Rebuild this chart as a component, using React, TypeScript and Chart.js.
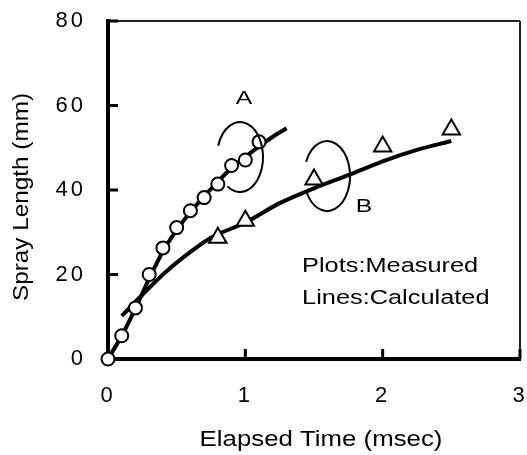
import React, { useEffect, useRef } from "react";
import { Chart, registerables } from "chart.js";

Chart.register(...registerables);

// ---- data ----
const measuredAX = [0, 0.1, 0.2, 0.3, 0.4, 0.5, 0.6, 0.7, 0.8, 0.9, 1.0, 1.1];
const measuredAY = [0, 5.5, 12.1, 20.0, 26.3, 31.1, 35.1, 38.2, 41.4, 45.8, 47.1, 51.4];
const measuredBX = [0.8, 1.0, 1.5, 2.0, 2.5];
const measuredBY = [28.7, 32.7, 42.5, 50.3, 54.3];
const calcAX = [0, 0.1, 0.2, 0.3, 0.4, 0.5, 0.6, 0.7, 0.8, 0.9, 1.0, 1.1, 1.2, 1.3];
const calcAY = [0, 5.5, 12, 19, 25.5, 30.5, 34.8, 38.5, 42, 45.2, 47.8, 50.3, 52.6, 54.6];
const calcBX = [0.1, 0.25, 0.4, 0.55, 0.75, 1.0, 1.25, 1.5, 1.75, 2.0, 2.25, 2.5];
const calcBY = [10.2, 15.2, 20, 24.1, 28.7, 32.3, 36.9, 40.4, 43.5, 46.8, 49.5, 51.6];

const xTickValues = [0, 1, 2, 3];
const yTickValues = [0, 20, 40, 60, 80];
const xTitle = "Elapsed Time (msec)";
const yTitle = "Spray Length (mm)";

const groupLabels = ["A", "B"];
const groupLabelX = [0.99, 1.864];
const groupLabelY = [61.7, 36.0];
const ellipseCX = [0.961, 1.595];
const ellipseCY = [47.8, 43.3];
const ellipseRX = [0.1675, 0.1675];
const ellipseRY = [8.28, 8.28];
const ellipseStartDeg = [-161, -156];
const ellipseEndDeg = [123, 152];

const noteLines = ["Plots:Measured", "Lines:Calculated"];
const noteX = 1.413;
const noteBaselineY = [20.7, 12.9];

const FONT = "'Liberation Sans', Arial, Helvetica, sans-serif";
const TICK_SPACING = "3px";

function pts(xs: number[], ys: number[]) {
  return xs.map((x, i) => ({ x, y: ys[i] }));
}

function stretchedText(
  ctx: CanvasRenderingContext2D,
  text: string,
  x: number,
  y: number,
  size: number,
  k: number,
  align: CanvasTextAlign,
  baseline: CanvasTextBaseline,
  rotate = 0
) {
  ctx.save();
  (ctx as any).letterSpacing = "0px";
  ctx.translate(x, y);
  if (rotate) ctx.rotate(rotate);
  ctx.scale(k, 1);
  ctx.font = `${size}px ${FONT}`;
  ctx.textAlign = align;
  ctx.textBaseline = baseline;
  ctx.fillStyle = "#000";
  ctx.fillText(text, 0, 0);
  ctx.restore();
}

const spacingPlugin = {
  id: "spacing",
  beforeUpdate(chart: any) {
    chart.ctx.letterSpacing = TICK_SPACING;
  },
  beforeDraw(chart: any) {
    chart.ctx.letterSpacing = TICK_SPACING;
  },
};

const framePlugin = {
  id: "frame",
  beforeDatasetsDraw(chart: any) {
    const { ctx, chartArea } = chart;
    const xs = chart.scales.x;
    const ys = chart.scales.y;
    ctx.save();
    ctx.strokeStyle = "#222";
    ctx.lineWidth = 2;
    ctx.beginPath();
    ctx.moveTo(chartArea.left, chartArea.top);
    ctx.lineTo(chartArea.right, chartArea.top);
    ctx.moveTo(chartArea.right, chartArea.top);
    ctx.lineTo(chartArea.right, chartArea.bottom);
    ctx.stroke();
    ctx.strokeStyle = "#000";
    ctx.lineWidth = 3;
    ctx.beginPath();
    yTickValues.forEach((v) => {
      if (v === 0) return;
      const py = ys.getPixelForValue(v);
      ctx.moveTo(chartArea.left, py);
      ctx.lineTo(chartArea.left + 10, py);
    });
    xTickValues.forEach((v) => {
      if (v === 0) return;
      const px = xs.getPixelForValue(v);
      ctx.moveTo(px, chartArea.bottom);
      ctx.lineTo(px, chartArea.bottom - 10);
    });
    ctx.stroke();
    ctx.restore();
  },
  afterDatasetsDraw(chart: any) {
    const { ctx, chartArea } = chart;
    const xs = chart.scales.x;
    const ys = chart.scales.y;
    ctx.save();
    ctx.strokeStyle = "#000";
    ctx.lineWidth = 2;
    for (let i = 0; i < ellipseCX.length; i++) {
      const cx = xs.getPixelForValue(ellipseCX[i]);
      const cy = ys.getPixelForValue(ellipseCY[i]);
      const rx = xs.getPixelForValue(ellipseCX[i] + ellipseRX[i]) - cx;
      const ry = cy - ys.getPixelForValue(ellipseCY[i] + ellipseRY[i]);
      ctx.beginPath();
      ctx.ellipse(cx, cy, rx, ry, 0, (ellipseStartDeg[i] * Math.PI) / 180, (ellipseEndDeg[i] * Math.PI) / 180, false);
      ctx.stroke();
    }
    ctx.restore();
    for (let i = 0; i < groupLabels.length; i++) {
      stretchedText(ctx, groupLabels[i], xs.getPixelForValue(groupLabelX[i]), ys.getPixelForValue(groupLabelY[i]), 19, 1.3, "center", "middle");
    }
    for (let i = 0; i < noteLines.length; i++) {
      stretchedText(ctx, noteLines[i], xs.getPixelForValue(noteX), ys.getPixelForValue(noteBaselineY[i]), 19.5, 1.3, "left", "alphabetic");
    }
    // axis titles
    const midX = (chartArea.left + chartArea.right) / 2;
    const midY = (chartArea.top + chartArea.bottom) / 2;
    stretchedText(ctx, xTitle, midX + 7, chart.height - 9, 21.5, 1.2, "center", "alphabetic");
    stretchedText(ctx, yTitle, 28, midY + 7, 21.5, 1.13, "center", "alphabetic", -Math.PI / 2);
  },
};

export default function App() {
  const ref = useRef<HTMLCanvasElement | null>(null);
  useEffect(() => {
    if (!ref.current) return;
    const chart = new Chart(ref.current, {
      type: "scatter",
      data: {
        datasets: [
          {
            label: "A measured",
            data: pts(measuredAX, measuredAY),
            showLine: false,
            pointStyle: "circle",
            pointRadius: 6.5,
            pointBorderWidth: 2,
            pointBackgroundColor: "#fff",
            pointBorderColor: "#000",
            order: 0,
            clip: false as any,
          },
          {
            label: "B measured",
            data: pts(measuredBX, measuredBY),
            showLine: false,
            pointStyle: "triangle",
            pointRadius: 10,
            pointBorderWidth: 2,
            pointBackgroundColor: "#fff",
            pointBorderColor: "#000",
            order: 0,
            clip: false as any,
          },
          {
            label: "A calculated",
            data: pts(calcAX, calcAY),
            showLine: true,
            pointRadius: 0,
            borderWidth: 4,
            borderColor: "#000",
            cubicInterpolationMode: "monotone",
            order: 1,
            clip: false as any,
          },
          {
            label: "B calculated",
            data: pts(calcBX, calcBY),
            showLine: true,
            pointRadius: 0,
            borderWidth: 4,
            borderColor: "#000",
            cubicInterpolationMode: "monotone",
            order: 1,
            clip: false as any,
          },
        ],
      },
      options: {
        responsive: false,
        animation: false,
        events: [],
        layout: { autoPadding: false, padding: { left: 0, top: 21, right: 7, bottom: 0 } },
        plugins: { legend: { display: false }, tooltip: { enabled: false } },
        scales: {
          x: {
            type: "linear",
            min: 0,
            max: 3,
            afterFit: (s: any) => {
              s.height = 96;
              s.paddingLeft = 0;
              s.paddingRight = 0;
            },
            ticks: {
              stepSize: 1,
              padding: 24,
              color: "#000",
              font: { family: FONT, size: 22 },
              callback: (v: any) => (xTickValues.includes(v) ? String(v) : ""),
            },
            grid: { display: false, drawTicks: false },
            border: { display: true, color: "#000", width: 4 },
            title: { display: false, text: xTitle },
          },
          y: {
            type: "linear",
            min: 0,
            max: 80,
            afterFit: (s: any) => {
              s.width = 108;
              s.paddingTop = 0;
              s.paddingBottom = 0;
            },
            ticks: {
              stepSize: 20,
              padding: 22,
              color: "#000",
              font: { family: FONT, size: 22 },
              callback: (v: any) => (yTickValues.includes(v) ? String(v) : ""),
            },
            grid: { display: false, drawTicks: false },
            border: { display: true, color: "#000", width: 4 },
            title: { display: false, text: yTitle },
          },
        },
      } as any,
      plugins: [spacingPlugin, framePlugin],
    });
    return () => chart.destroy();
  }, []);
  return (
    <div style={{ position: "fixed", left: 0, top: 0, width: 527, height: 455, background: "#fff" }}>
      <canvas ref={ref} width={527} height={455} style={{ display: "block" }} />
    </div>
  );
}
